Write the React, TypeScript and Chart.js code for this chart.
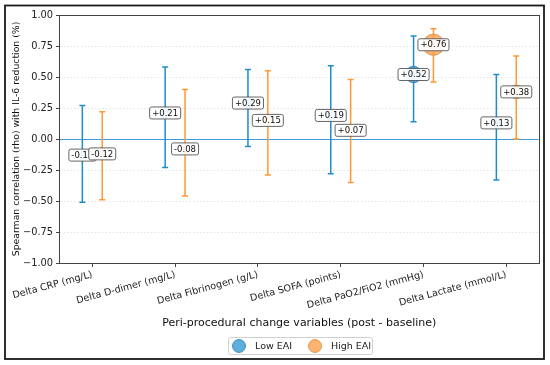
import React, { useEffect, useRef } from 'react';
import { Chart, registerables } from 'chart.js';
Chart.register(...registerables);

const categories = [
  'Delta CRP (mg/L)',
  'Delta D-dimer (mg/L)',
  'Delta Fibrinogen (g/L)',
  'Delta SOFA (points)',
  'Delta PaO2/FiO2 (mmHg)',
  'Delta Lactate (mmol/L)',
];
const lowRho = [-0.13, 0.21, 0.29, 0.19, 0.52, 0.13];
const lowLo = [-0.51, -0.23, -0.06, -0.28, 0.14, -0.33];
const lowHi = [0.27, 0.58, 0.56, 0.59, 0.83, 0.52];
const highRho = [-0.12, -0.08, 0.15, 0.07, 0.76, 0.38];
const highLo = [-0.49, -0.46, -0.29, -0.35, 0.46, 0.0];
const highHi = [0.22, 0.4, 0.55, 0.48, 0.89, 0.67];
const yTicks = [-1, -0.75, -0.5, -0.25, 0, 0.25, 0.5, 0.75, 1];
const seriesNames = ['Low EAI', 'High EAI'];

const FONT = "'DejaVu Sans', sans-serif";
const BLUE = '#1f8ccc';
const ORANGE = '#ff9933';
const BLUE_FILL = 'rgba(52,152,212,0.8)';
const ORANGE_FILL = 'rgba(255,160,80,0.8)';
const OFFSET = 0.12;

const fmt = (v: number) => (v < 0 ? '\u2212' : '') + Math.abs(v).toFixed(2);
const sign = (v: number) => (v >= 0 ? '+' : '-') + Math.abs(v).toFixed(2);

export default function App() {
  const ref = useRef<HTMLCanvasElement | null>(null);
  useEffect(() => {
    document.body.style.margin = '0';
    const canvas = ref.current!;
    const series = [
      { rho: lowRho, lo: lowLo, hi: lowHi, off: -OFFSET, color: BLUE },
      { rho: highRho, lo: highLo, hi: highHi, off: OFFSET, color: ORANGE },
    ];
    const plugin = {
      id: 'extras',
      beforeDatasetsDraw(chart: any) {
        const { ctx, chartArea } = chart;
        const xs = chart.scales.x;
        const ys = chart.scales.y;
        ctx.save();
        ctx.strokeStyle = '#3b9bd6';
        ctx.lineWidth = 1;
        ctx.beginPath();
        const y0 = Math.round(ys.getPixelForValue(0)) + 0.5;
        ctx.moveTo(chartArea.left, y0);
        ctx.lineTo(chartArea.right, y0);
        ctx.stroke();
        for (const s of series) {
          ctx.strokeStyle = s.color;
          ctx.lineWidth = 1.5;
          s.rho.forEach((_, i) => {
            const x = xs.getPixelForValue(i + s.off);
            const yl = ys.getPixelForValue(s.lo[i]);
            const yh = ys.getPixelForValue(s.hi[i]);
            ctx.beginPath();
            ctx.moveTo(x, yl);
            ctx.lineTo(x, yh);
            ctx.moveTo(x - 3, yl);
            ctx.lineTo(x + 3, yl);
            ctx.moveTo(x - 3, yh);
            ctx.lineTo(x + 3, yh);
            ctx.stroke();
          });
        }
        ctx.restore();
      },
      afterDatasetsDraw(chart: any) {
        const { ctx } = chart;
        const xs = chart.scales.x;
        const ys = chart.scales.y;
        ctx.save();
        ctx.font = `8.5px ${FONT}`;
        ctx.textAlign = 'center';
        ctx.textBaseline = 'middle';
        for (const s of series) {
          s.rho.forEach((v, i) => {
            const x = xs.getPixelForValue(i + s.off);
            const y = ys.getPixelForValue(v);
            const t = sign(v);
            const w = ctx.measureText(t).width + 5;
            const h = 12;
            ctx.beginPath();
            ctx.roundRect(x - w / 2, y - h / 2, w, h, 2);
            ctx.fillStyle = 'rgba(255,255,255,0.92)';
            ctx.fill();
            ctx.strokeStyle = '#555';
            ctx.lineWidth = 0.9;
            ctx.stroke();
            ctx.fillStyle = '#111';
            ctx.fillText(t, x, y + 0.5);
          });
        }
        ctx.restore();
      },
      afterDraw(chart: any) {
        const { ctx, chartArea } = chart;
        ctx.save();
        ctx.strokeStyle = '#444';
        ctx.lineWidth = 1;
        ctx.strokeRect(Math.round(chartArea.left) - 0.5, Math.round(chartArea.top) + 0.5,
          Math.round(chartArea.right - chartArea.left) + 1, Math.round(chartArea.bottom - chartArea.top));
        ctx.strokeStyle = '#1a1a1a';
        ctx.lineWidth = 1.8;
        ctx.strokeRect(5, 5.5, 539, 353.5);
        ctx.beginPath();
        ctx.roundRect(228.5, 337.5, 144, 17, 2);
        ctx.fillStyle = 'rgba(255,255,255,0.9)';
        ctx.fill();
        ctx.strokeStyle = '#d0d0d0';
        ctx.lineWidth = 1;
        ctx.stroke();
        const items = [
          { x: 239, fill: BLUE_FILL, edge: '#2a7fb5', label: seriesNames[0], tx: 255 },
          { x: 315, fill: ORANGE_FILL, edge: '#d98a3c', label: seriesNames[1], tx: 331 },
        ];
        ctx.font = `9.5px ${FONT}`;
        ctx.textBaseline = 'middle';
        ctx.textAlign = 'left';
        for (const it of items) {
          ctx.beginPath();
          ctx.arc(it.x, 346, 6.5, 0, Math.PI * 2);
          ctx.fillStyle = it.fill;
          ctx.fill();
          ctx.strokeStyle = it.edge;
          ctx.lineWidth = 0.8;
          ctx.stroke();
          ctx.fillStyle = '#222';
          ctx.fillText(it.label, it.tx, 346.5);
        }
        ctx.restore();
      },
    };

    const radius = (arr: number[]) => arr.map((v) => 3 + 10 * Math.abs(v));

    const chart = new Chart(canvas, {
      type: 'scatter',
      data: {
        datasets: [
          {
            label: seriesNames[0],
            data: lowRho.map((v, i) => ({ x: i - OFFSET, y: v })),
            backgroundColor: BLUE_FILL,
            borderColor: '#2a7fb5',
            borderWidth: 0.8,
            pointRadius: radius(lowRho),
          },
          {
            label: seriesNames[1],
            data: highRho.map((v, i) => ({ x: i + OFFSET, y: v })),
            backgroundColor: ORANGE_FILL,
            borderColor: '#d98a3c',
            borderWidth: 0.8,
            pointRadius: radius(highRho),
          },
        ],
      },
      options: {
        animation: false,
        responsive: false,
        devicePixelRatio: 1,
        layout: { padding: { top: 15, right: 10, bottom: 35, left: 0 } },
        plugins: { legend: { display: false }, tooltip: { enabled: false } },
        scales: {
          x: {
            type: 'linear',
            min: -0.39,
            max: 5.39,
            afterBuildTicks: (scale: any) => {
              scale.ticks = categories.map((_, i) => ({ value: i }));
            },
            afterFit: (scale: any) => {
              scale.height = 67;
              scale.paddingLeft = 0;
              scale.paddingRight = 0;
            },
            ticks: {
              autoSkip: false,
              maxRotation: 15,
              minRotation: 15,
              padding: 2,
              color: '#222',
              font: { family: FONT, size: 9.6 },
              callback: (v: any) => categories[v as number] ?? '',
            },
            grid: { drawOnChartArea: false, drawTicks: true, tickLength: 4, tickColor: '#444' },
            border: { display: false },
            title: {
              display: true,
              text: 'Peri-procedural change variables (post - baseline)',
              color: '#111',
              font: { family: FONT, size: 11 },
              padding: { top: 0, bottom: 0 },
            },
          },
          y: {
            min: -1,
            max: 1,
            afterBuildTicks: (scale: any) => {
              scale.ticks = yTicks.map((v) => ({ value: v }));
            },
            afterFit: (scale: any) => {
              scale.width = 60;
              scale.paddingTop = 0;
              scale.paddingBottom = 0;
            },
            ticks: {
              padding: 3,
              color: '#222',
              font: { family: FONT, size: 9.8 },
              callback: (v: any) => fmt(v as number),
            },
            grid: { color: '#e3e3e3', lineWidth: 1, tickLength: 4, tickColor: '#444' },
            border: { display: false, dash: [1.5, 2] },
            title: {
              display: true,
              text: 'Spearman correlation (rho) with IL-6 reduction (%)',
              color: '#111',
              font: { family: FONT, size: 9.3 },
              padding: { top: 11, bottom: 0 },
            },
          },
        },
      },
      plugins: [plugin],
    } as any);
    return () => chart.destroy();
  }, []);
  return (
    <div style={{ position: 'absolute', left: 0, top: 0, width: 550, height: 365, background: '#fff' }}>
      <canvas ref={ref} width={550} height={365} />
    </div>
  );
}
